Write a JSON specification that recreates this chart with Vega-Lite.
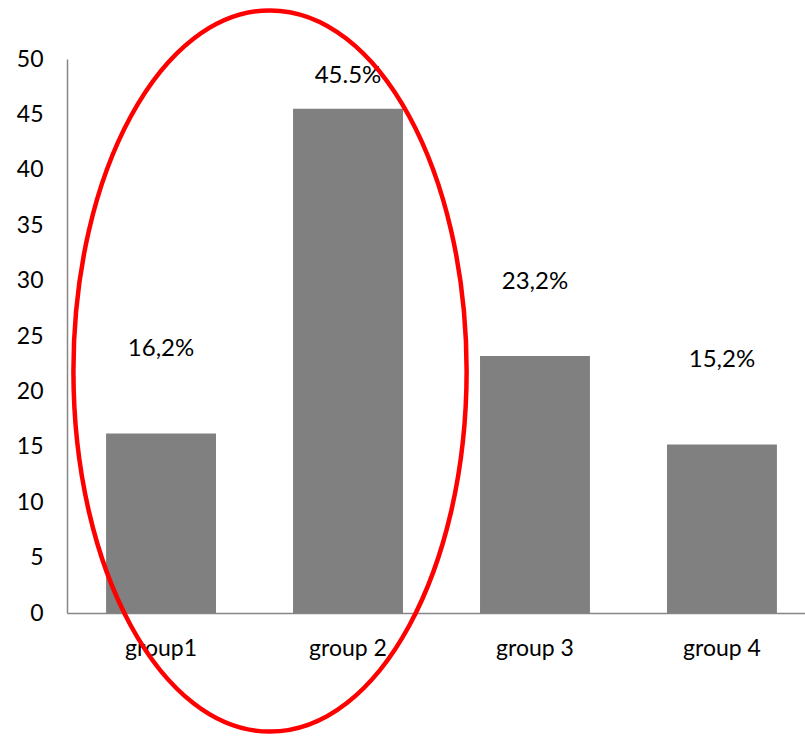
{
  "$schema": "https://vega.github.io/schema/vega-lite/v6.json",
  "autosize": "none",
  "width": 738,
  "height": 554,
  "padding": {"left": 67, "top": 59, "right": 0, "bottom": 123},
  "background": "white",
  "config": {
    "view": {"stroke": null},
    "font": "Lato",
    "axis": {
      "labelFont": "Lato",
      "labelFontSize": 23,
      "labelColor": "#000000",
      "domainColor": "#868686",
      "domainWidth": 1.5,
      "ticks": false,
      "grid": false,
      "title": null
    }
  },
  "data": {
    "values": [
      {"group": "group1", "value": 16.2, "label": "16,2%"},
      {"group": "group 2", "value": 45.5, "label": "45.5%"},
      {"group": "group 3", "value": 23.2, "label": "23,2%"},
      {"group": "group 4", "value": 15.2, "label": "15,2%"}
    ]
  },
  "encoding": {
    "x": {
      "field": "group",
      "type": "nominal",
      "sort": null,
      "scale": {"range": [0, 749], "paddingInner": 0.412, "paddingOuter": 0.209},
      "axis": {"labelAngle": 0, "labelPadding": 24}
    },
    "y": {
      "field": "value",
      "type": "quantitative",
      "scale": {"domain": [0, 50], "nice": false},
      "axis": {"values": [0, 5, 10, 15, 20, 25, 30, 35, 40, 45, 50], "labelPadding": 24}
    }
  },
  "layer": [
    {
      "mark": {"type": "bar", "color": "#808080"}
    },
    {
      "mark": {
        "type": "text",
        "fontSize": 24,
        "color": "#000000",
        "baseline": "middle",
        "dy": {"expr": "datum.group === 'group 2' ? -33 : datum.group === 'group 3' ? -74 : -85"}
      },
      "encoding": {"text": {"field": "label"}}
    },
    {
      "transform": [{"filter": "datum.group === 'group 2'"}],
      "mark": {
        "type": "point",
        "filled": false,
        "opacity": 1,
        "color": "#ff0000",
        "strokeWidth": 4.5,
        "size": 520129,
        "shape": "M 0.3289 0 C 0.3289 0.5523 0.0848 1 -0.2163 1 C -0.5174 1 -0.7615 0.5523 -0.7615 0 C -0.7615 -0.5523 -0.5174 -1 -0.2163 -1 C 0.0848 -1 0.3289 -0.5523 0.3289 0 Z"
      },
      "encoding": {
        "y": {"datum": 21.84}
      }
    }
  ]
}
